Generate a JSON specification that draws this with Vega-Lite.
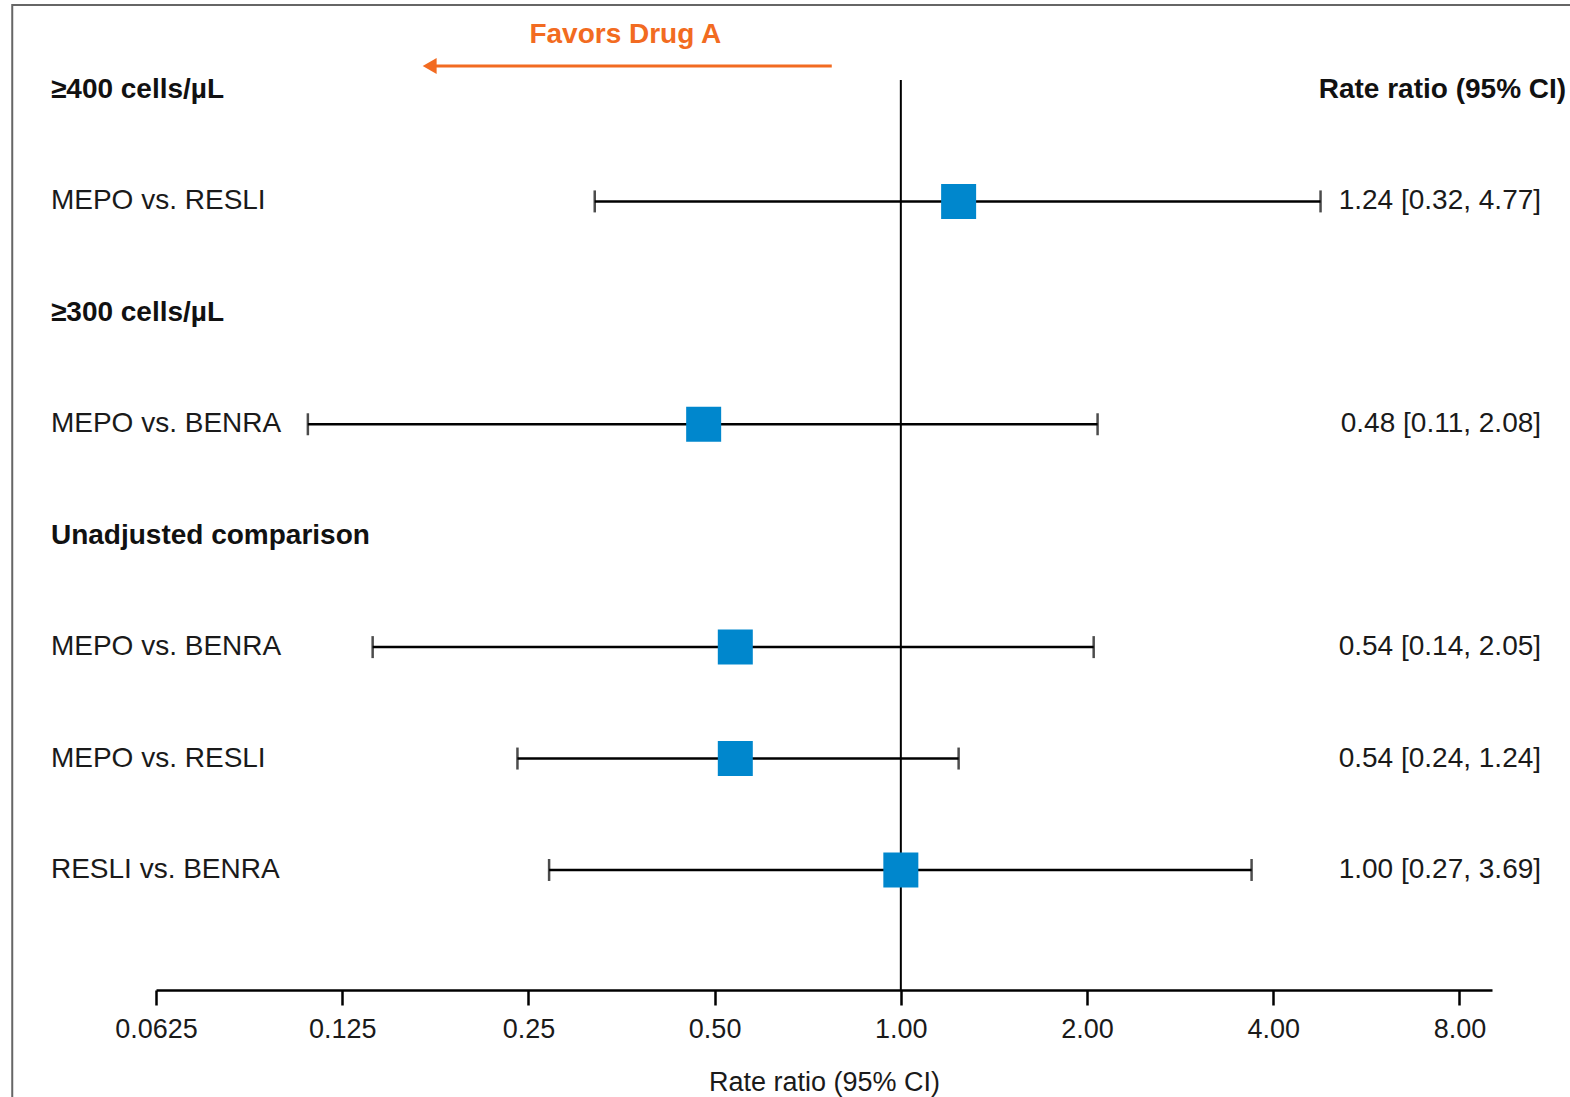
{
  "$schema": "https://vega.github.io/schema/vega-lite/v6.json",
  "width": 1336,
  "height": 910,
  "autosize": {"type": "none"},
  "padding": {"left": 156, "top": 80, "right": 78, "bottom": 107},
  "background": "white",
  "config": {"view": {"stroke": null}, "font": "Liberation Sans"},
  "datasets": {
    "rows": [
      {"row": 0, "kind": "header", "label": "≥400 cells/µL"},
      {"row": 1, "kind": "item", "label": "MEPO vs. RESLI", "est": 1.24, "lo": 0.32, "hi": 4.77, "ci": "1.24 [0.32, 4.77]"},
      {"row": 2, "kind": "header", "label": "≥300 cells/µL"},
      {"row": 3, "kind": "item", "label": "MEPO vs. BENRA", "est": 0.48, "lo": 0.11, "hi": 2.08, "ci": "0.48 [0.11, 2.08]"},
      {"row": 4, "kind": "header", "label": "Unadjusted comparison"},
      {"row": 5, "kind": "item", "label": "MEPO vs. BENRA", "est": 0.54, "lo": 0.14, "hi": 2.05, "ci": "0.54 [0.14, 2.05]"},
      {"row": 6, "kind": "item", "label": "MEPO vs. RESLI", "est": 0.54, "lo": 0.24, "hi": 1.24, "ci": "0.54 [0.24, 1.24]"},
      {"row": 7, "kind": "item", "label": "RESLI vs. BENRA", "est": 1.0, "lo": 0.27, "hi": 3.69, "ci": "1.00 [0.27, 3.69]"}
    ]
  },
  "layer": [
    {
      "data": {"name": "rows"},
      "transform": [{"filter": "datum.kind === 'item'"}],
      "mark": {"type": "rule", "color": "black", "strokeWidth": 2.5},
      "encoding": {
        "x": {
          "field": "lo", "type": "quantitative",
          "scale": {"type": "log", "base": 2, "domain": [0.0625, 9.03], "nice": false, "zero": false},
          "axis": {
            "values": [0.0625, 0.125, 0.25, 0.5, 1, 2, 4, 8],
            "labelExpr": "datum.value == 0.0625 ? '0.0625' : datum.value == 0.125 ? '0.125' : datum.value == 0.25 ? '0.25' : format(datum.value, '.2f')",
            "title": "Rate ratio (95% CI)",
            "grid": false,
            "domainColor": "black", "domainWidth": 2.5,
            "tickColor": "black", "tickWidth": 2.5, "tickSize": 15,
            "labelFontSize": 27, "labelColor": "#1a1a1a", "labelPadding": 11, "labelFlush": false,
            "titleFontSize": 27, "titleFontWeight": "normal", "titleColor": "#1a1a1a", "titlePadding": 27
          }
        },
        "x2": {"field": "hi"},
        "y": {"field": "row", "type": "quantitative", "scale": {"domain": [-0.0896, 8.0772], "reverse": true, "nice": false, "zero": false}, "axis": null}
      }
    },
    {
      "data": {"name": "rows"},
      "transform": [{"filter": "datum.kind === 'item'"}],
      "mark": {"type": "tick", "orient": "vertical", "color": "black", "size": 22, "thickness": 2.5},
      "encoding": {
        "x": {"field": "lo", "type": "quantitative"},
        "y": {"field": "row", "type": "quantitative"}
      }
    },
    {
      "data": {"name": "rows"},
      "transform": [{"filter": "datum.kind === 'item'"}],
      "mark": {"type": "tick", "orient": "vertical", "color": "black", "size": 22, "thickness": 2.5},
      "encoding": {
        "x": {"field": "hi", "type": "quantitative"},
        "y": {"field": "row", "type": "quantitative"}
      }
    },
    {
      "data": {"values": [{}]},
      "mark": {"type": "rule", "color": "black", "strokeWidth": 2},
      "encoding": {"x": {"datum": 1, "type": "quantitative"}}
    },
    {
      "data": {"name": "rows"},
      "transform": [{"filter": "datum.kind === 'item'"}],
      "mark": {"type": "point", "shape": "square", "filled": true, "color": "#0087CD", "opacity": 1, "size": 1225},
      "encoding": {
        "x": {"field": "est", "type": "quantitative"},
        "y": {"field": "row", "type": "quantitative"}
      }
    },
    {
      "data": {"name": "rows"},
      "transform": [{"filter": "datum.kind === 'item'"}],
      "mark": {"type": "text", "align": "left", "baseline": "middle", "fontSize": 28, "color": "#1a1a1a"},
      "encoding": {
        "x": {"datum": 0.04227, "type": "quantitative"},
        "y": {"field": "row", "type": "quantitative"},
        "text": {"field": "label"}
      }
    },
    {
      "data": {"name": "rows"},
      "transform": [{"filter": "datum.kind === 'header'"}],
      "mark": {"type": "text", "align": "left", "baseline": "middle", "fontSize": 28, "fontWeight": "bold", "color": "#111"},
      "encoding": {
        "x": {"datum": 0.04227, "type": "quantitative"},
        "y": {"field": "row", "type": "quantitative"},
        "text": {"field": "label"}
      }
    },
    {
      "data": {"name": "rows"},
      "transform": [{"filter": "datum.kind === 'item'"}],
      "mark": {"type": "text", "align": "right", "baseline": "middle", "fontSize": 28, "color": "#1a1a1a"},
      "encoding": {
        "x": {"datum": 10.84, "type": "quantitative"},
        "y": {"field": "row", "type": "quantitative"},
        "text": {"field": "ci"}
      }
    },
    {
      "data": {"values": [{"t": "Rate ratio (95% CI)"}]},
      "mark": {"type": "text", "align": "right", "baseline": "middle", "fontSize": 28, "fontWeight": "bold", "color": "#111"},
      "encoding": {
        "x": {"datum": 11.9, "type": "quantitative"},
        "y": {"datum": 0, "type": "quantitative"},
        "text": {"field": "t"}
      }
    },
    {
      "data": {"values": [{"t": "Favors Drug A"}]},
      "mark": {"type": "text", "align": "center", "baseline": "middle", "fontSize": 28, "fontWeight": "bold", "color": "#F26B21"},
      "encoding": {
        "x": {"datum": 0.3586, "type": "quantitative"},
        "y": {"datum": -0.493, "type": "quantitative"},
        "text": {"field": "t"}
      }
    },
    {
      "data": {"values": [{}]},
      "mark": {"type": "rule", "color": "#F26B21", "strokeWidth": 3},
      "encoding": {
        "x": {"datum": 0.1731, "type": "quantitative"},
        "x2": {"datum": 0.7733},
        "y": {"datum": -0.215, "type": "quantitative"}
      }
    },
    {
      "data": {"values": [{}]},
      "mark": {"type": "point", "shape": "triangle-left", "filled": true, "color": "#F26B21", "opacity": 1, "size": 260},
      "encoding": {
        "x": {"datum": 0.1731, "type": "quantitative"},
        "y": {"datum": -0.215, "type": "quantitative"}
      }
    },
    {
      "data": {"values": [{}]},
      "mark": {"type": "rect", "fill": null, "stroke": "#666", "strokeWidth": 2},
      "encoding": {
        "x": {"datum": 0.0366, "type": "quantitative"},
        "x2": {"datum": 12.17},
        "y": {"datum": -0.762, "type": "quantitative"},
        "y2": {"datum": 9.053}
      }
    }
  ]
}
